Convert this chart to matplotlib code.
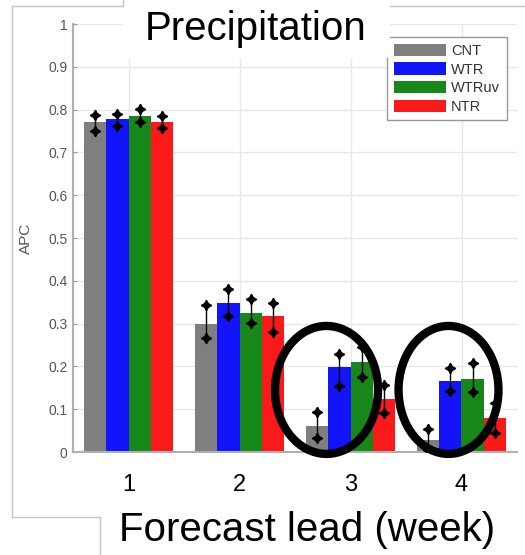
import matplotlib
matplotlib.use("Agg")
import matplotlib.pyplot as plt
import numpy as np
from matplotlib.lines import Line2D
from matplotlib.patches import Ellipse, Rectangle

plt.rcParams["font.family"] = ["Liberation Sans", "DejaVu Sans"]

leads = [1, 2, 3, 4]
series_names = ["CNT", "WTR", "WTRuv", "NTR"]
series_colors = ["#7f7f7f", "#1414fa", "#17871a", "#fa1a1a"]

# mean APC per forecast week, with low / high ends of each member spread
apc_cnt = [0.771, 0.300, 0.061, 0.028]
apc_wtr = [0.778, 0.348, 0.199, 0.166]
apc_wtruv = [0.785, 0.325, 0.210, 0.171]
apc_ntr = [0.771, 0.318, 0.124, 0.079]

low_cnt = [0.750, 0.266, 0.033, 0.005]
low_wtr = [0.762, 0.318, 0.154, 0.143]
low_wtruv = [0.771, 0.301, 0.175, 0.140]
low_ntr = [0.757, 0.280, 0.091, 0.044]

high_cnt = [0.787, 0.343, 0.093, 0.054]
high_wtr = [0.790, 0.381, 0.229, 0.196]
high_wtruv = [0.801, 0.357, 0.245, 0.208]
high_ntr = [0.785, 0.348, 0.157, 0.114]

y_ticks = [0, 0.1, 0.2, 0.3, 0.4, 0.5, 0.6, 0.7, 0.8, 0.9, 1]
y_tick_labels = ["0", "0.1", "0.2", "0.3", "0.4", "0.5", "0.6", "0.7", "0.8", "0.9", "1"]

# highlight rings around weeks 3 and 4 (data units)
ring_centers = [(2.784, 0.145), (3.883, 0.145)]
ring_sizes = [(0.928, 0.299), (0.900, 0.299)]

means = [apc_cnt, apc_wtr, apc_wtruv, apc_ntr]
lows = [low_cnt, low_wtr, low_wtruv, low_ntr]
highs = [high_cnt, high_wtr, high_wtruv, high_ntr]

W, H = 525, 555
fig = plt.figure(figsize=(W / 100, H / 100), dpi=100)
ax = fig.add_axes([73 / W, (H - 452) / H, 444 / W, 428 / H])

bar_width = 0.2
x = np.array(leads, dtype=float)
for i, name in enumerate(series_names):
    pos = x + (i - 1.5) * bar_width
    ax.bar(pos, means[i], width=bar_width, color=series_colors[i], label=name, zorder=2)
    ax.vlines(pos, lows[i], highs[i], color="black", linewidth=1.0, zorder=3)
    ax.plot(pos, lows[i], linestyle="none", marker=(4, 1, 0), markersize=7.5,
            color="black", zorder=3)
    ax.plot(pos, highs[i], linestyle="none", marker=(4, 1, 0), markersize=7.5,
            color="black", zorder=3)

for (cx, cy), (ew, eh) in zip(ring_centers, ring_sizes):
    ax.add_patch(Ellipse((cx, cy), ew, eh, fill=False, edgecolor="black",
                         linewidth=6, zorder=5, clip_on=False))

ax.set_xlim(0.5, 4.5)
ax.set_ylim(0, 1)
ax.set_xticks(leads)
ax.set_xticklabels([str(v) for v in leads], fontsize=17, color="black")
ax.set_yticks(y_ticks)
ax.set_yticklabels(y_tick_labels, fontsize=10, color="#555555")
ax.tick_params(axis="y", direction="in", length=3, color="#999999", pad=4)
ax.tick_params(axis="x", direction="in", length=0, pad=16)
ax.grid(True, color="#e8e8e8", linewidth=1.0, zorder=0)
ax.set_axisbelow(True)
for side in ["top", "right"]:
    ax.spines[side].set_visible(False)
for side in ["left", "bottom"]:
    ax.spines[side].set_color("#b0b0b0")
    ax.spines[side].set_linewidth(1.5)

ax.set_ylabel("APC", fontsize=11, color="#555555")
ax.yaxis.set_label_coords((33 - 73) / 444, 0.5)

leg = ax.legend(loc="upper left", bbox_to_anchor=((387 - 73) / 444, (452 - 37) / 428),
                borderaxespad=0, fontsize=10.5, handlelength=3.6, handleheight=0.95,
                labelspacing=0.3, handletextpad=0.35, borderpad=0.45,
                fancybox=False, framealpha=1, edgecolor="#999999")
for t in leg.get_texts():
    t.set_color("#333333")
leg.set_zorder(6)

# white panel behind the title, then the title itself
fig.add_artist(Rectangle((123 / W, 1 - 58 / H), (390 - 123) / W, 58 / H,
                         transform=fig.transFigure, facecolor="white",
                         edgecolor="none", zorder=7))
fig.text(256 / W, 1 - 29 / H, "Precipitation", fontsize=29, ha="center",
         va="center", zorder=8)

# outer panel frame
frame = dict(color="#c4c4c4", linewidth=1.0, transform=fig.transFigure, zorder=9)
segments = [
    ((12, 123), (6, 6)),
    ((123, 123), (0, 6)),
    ((390, 525), (6, 6)),
    ((12, 12), (6, 517)),
    ((12, 100), (517, 517)),
    ((100, 100), (517, 555)),
]
for xs, ys in segments:
    fig.add_artist(Line2D([v / W for v in xs], [1 - v / H for v in ys], **frame))

fig.text(307 / W, 1 - 530 / H, "Forecast lead (week)", fontsize=29,
         ha="center", va="center", zorder=8)

fig.savefig("out.png", dpi=100)
